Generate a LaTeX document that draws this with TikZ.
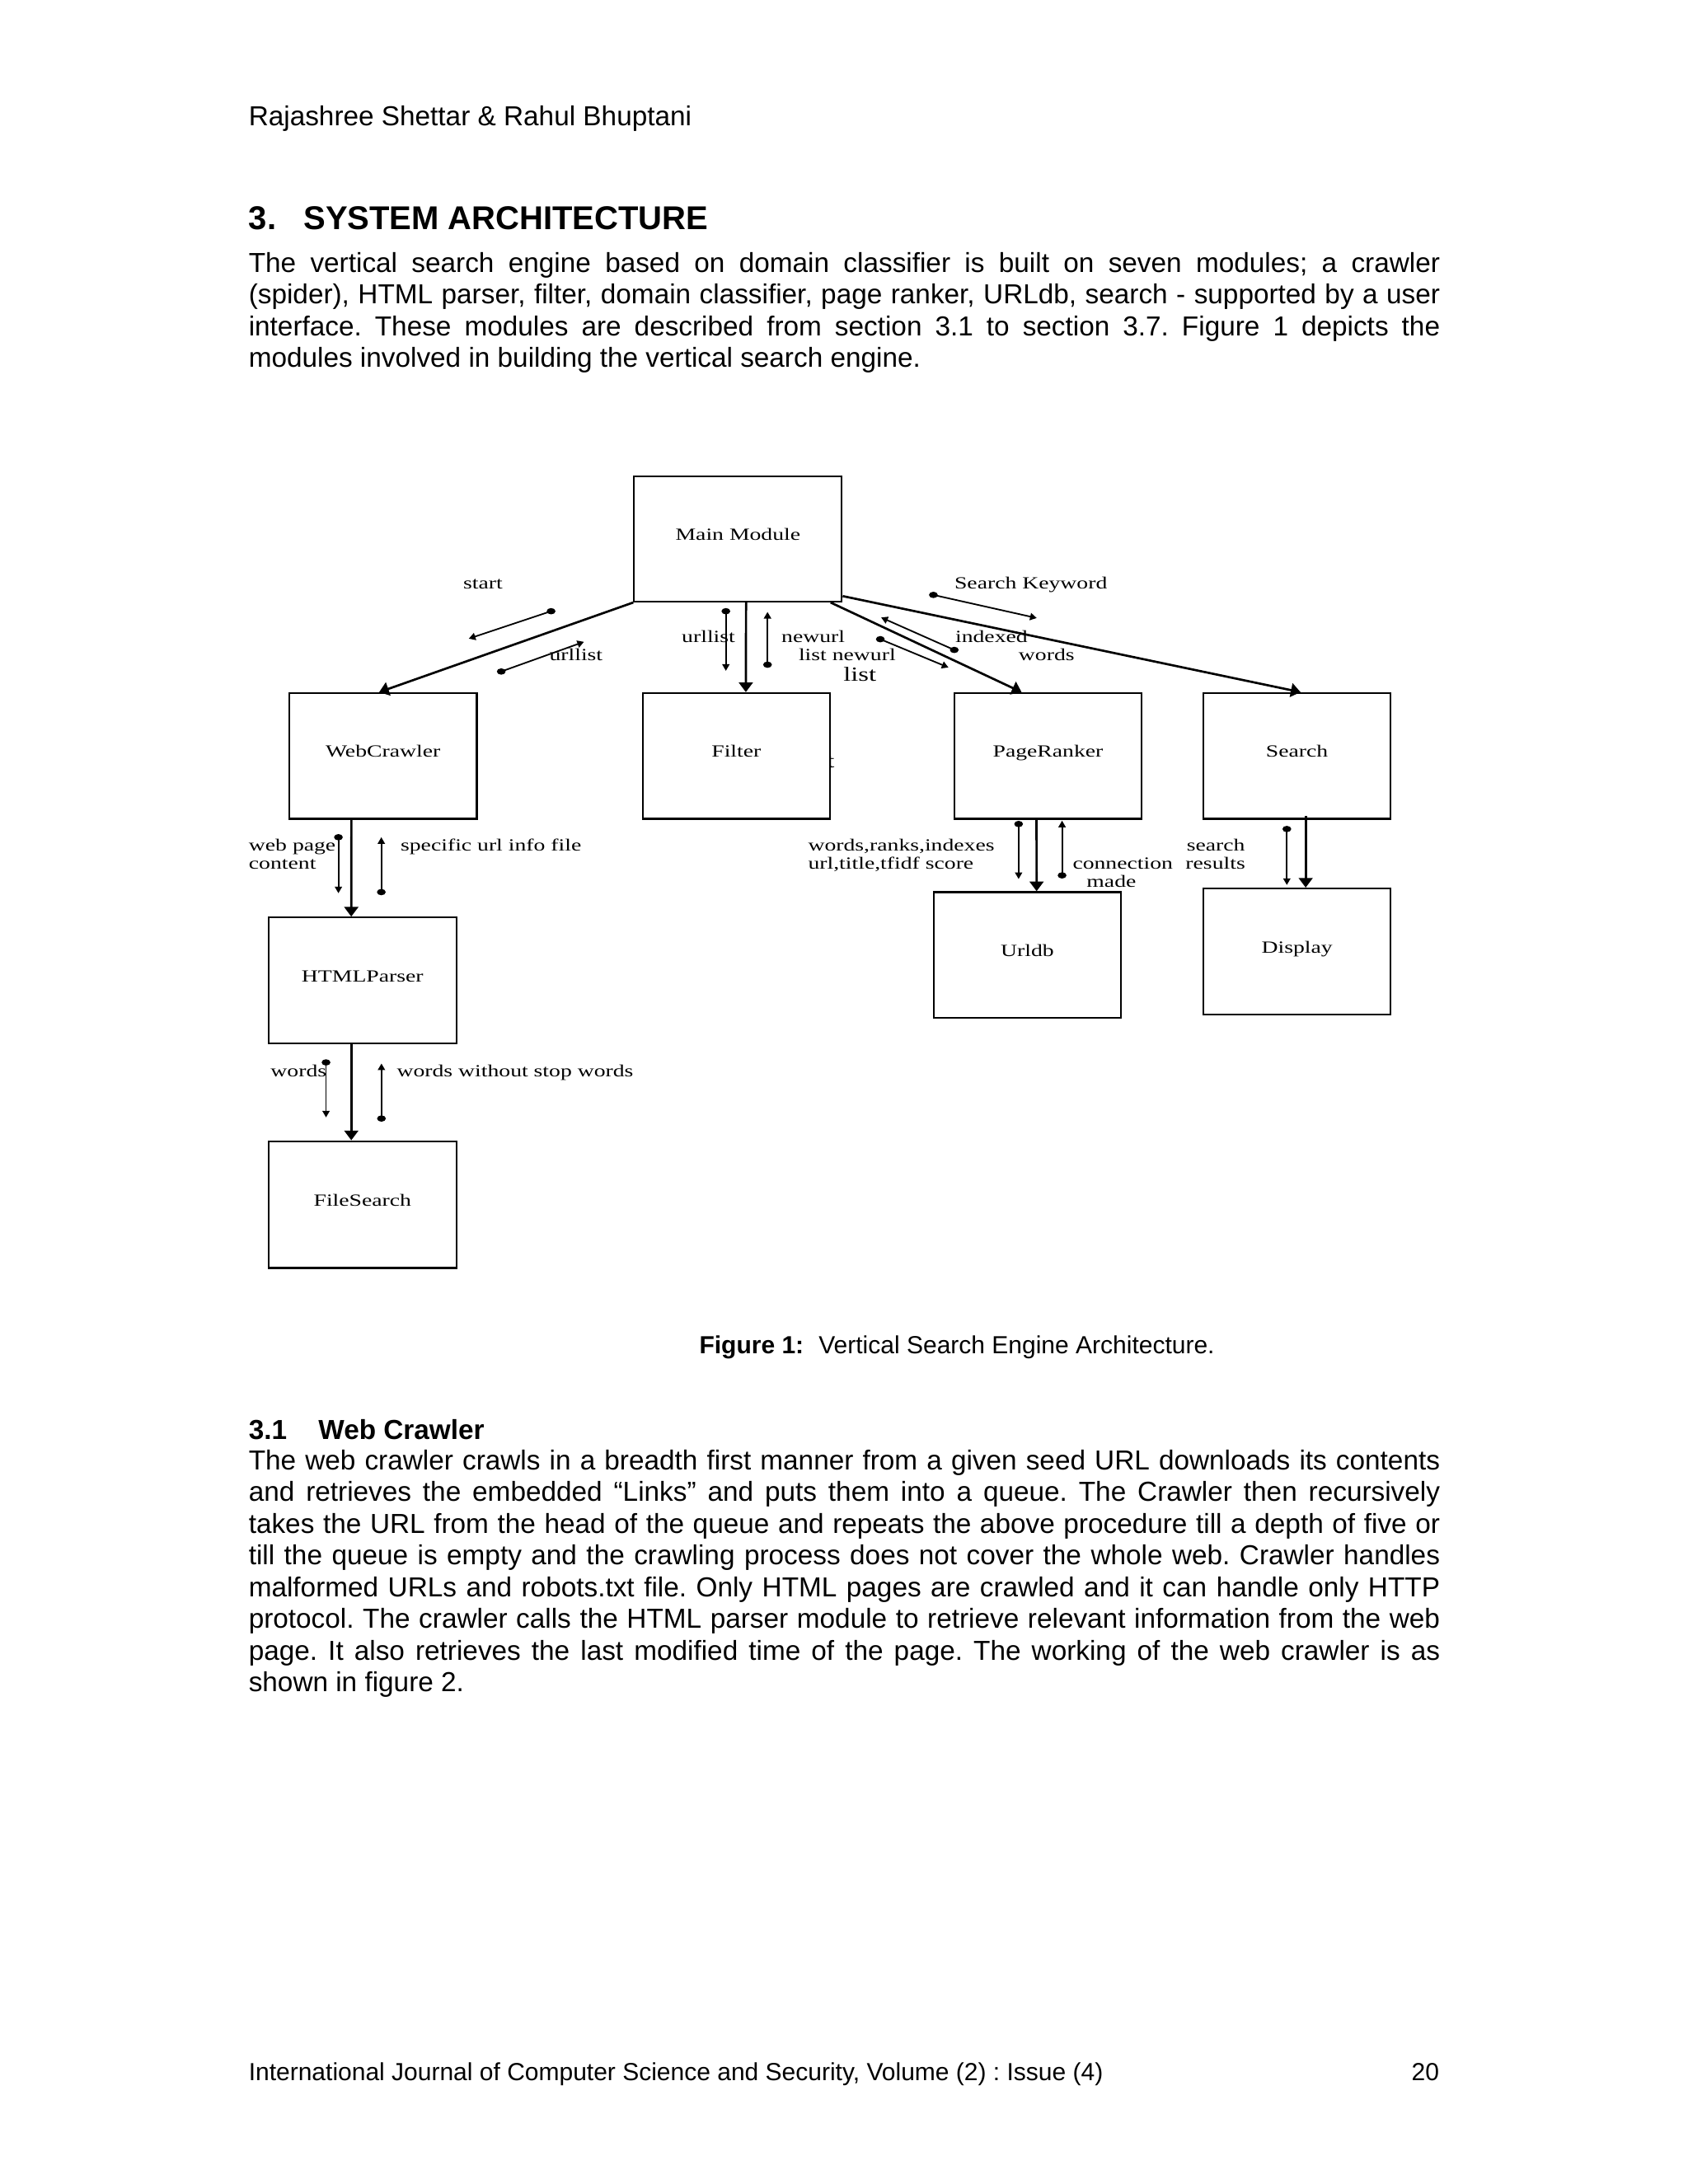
\documentclass[tikz,border=0pt]{standalone}
\usepackage{fontspec}
\usepackage{graphicx}
\setmainfont{Liberation Sans}
\newfontfamily\dfont{Liberation Serif}
\usetikzlibrary{arrows.meta,calc}
\newcommand{\dtxt}[1]{\scalebox{1.34}[1]{\dfont\fontsize{6.2}{7}\selectfont #1}}
\newcommand{\dbig}[1]{\scalebox{1.34}[1]{\dfont\fontsize{7.3}{8}\selectfont #1}}
\newcommand{\jline}[1]{\makebox[432bp][s]{#1}}
\frenchspacing
\begin{document}
\begin{tikzpicture}[x=0.505bp,y=-0.505bp,
  box/.style={draw,line width=0.65bp,fill=white,inner sep=0pt,minimum width=68bp,minimum height=45.6bp,text height=4.2bp,text depth=3.2bp},
  lbl/.style={inner sep=0pt,anchor=base},
  lblw/.style={inner sep=0pt,anchor=base west},
  body/.style={inner sep=0pt,anchor=base west,font=\fontsize{10}{12}\selectfont},
  mainarr/.style={line width=0.8bp,-{Triangle[length=3.5bp,width=5bp]}},
  smallarr/.style={line width=0.55bp,-{Triangle[length=2.4bp,width=2.6bp]}},
  dot/.style={fill=black}
]
\fill[white] (0,0) rectangle (1211.88,1568.32);
\useasboundingbox (0,0) rectangle (1211.88,1568.32);

% ---- page text ----
\node[body] (hdr) at (178.2,90) {Rajashree Shettar \& Rahul Bhuptani};
\node[body,font=\bfseries\fontsize{12}{14}\selectfont] (secnum) at (178.2,165) {3.};
\node[body,font=\bfseries\fontsize{12}{14}\selectfont] (sectitle) at (217.6,165) {SYSTEM ARCHITECTURE};
\node[body] (p1a) at (178.2,195.3) {\jline{The vertical search engine based on domain classifier is built on seven modules; a crawler}};
\node[body] (p1b) at (178.2,218.1) {\jline{(spider), HTML parser, filter, domain classifier, page ranker, URLdb, search - supported by a user}};
\node[body] (p1c) at (178.2,240.9) {\jline{interface. These modules are described from section 3.1 to section 3.7. Figure 1 depicts the}};
\node[body] (p1d) at (178.2,263.6) {modules involved in building the vertical search engine.};

\node[body,font=\bfseries\fontsize{9}{11}\selectfont] (capb) at (501.8,972) {Figure 1:};
\node[body,font=\fontsize{9}{11}\selectfont] (capt) at (587.5,972) {Vertical Search Engine Architecture.};

\node[body,font=\bfseries\fontsize{10}{12}\selectfont] (subnum) at (178.2,1033.6) {3.1};
\node[body,font=\bfseries\fontsize{10}{12}\selectfont] (subtitle) at (228.3,1033.6) {Web Crawler};
\node[body] (p2a) at (178.2,1055.4) {\jline{The web crawler crawls in a breadth first manner from a given seed URL downloads its contents}};
\node[body] (p2b) at (178.2,1078.2) {\jline{and retrieves the embedded “Links” and puts them into a queue. The Crawler then recursively}};
\node[body] (p2c) at (178.2,1100.9) {\jline{takes the URL from the head of the queue and repeats the above procedure till a depth of five or}};
\node[body] (p2d) at (178.2,1123.7) {\jline{till the queue is empty and the crawling process does not cover the whole web. Crawler handles}};
\node[body] (p2e) at (178.2,1146.5) {\jline{malformed URLs and robots.txt file. Only HTML pages are crawled and it can handle only HTTP}};
\node[body] (p2f) at (178.2,1169.3) {\jline{protocol. The crawler calls the HTML parser module to retrieve relevant information from the web}};
\node[body] (p2g) at (178.2,1192.0) {\jline{page. It also retrieves the last modified time of the page. The working of the web crawler is as}};
\node[body] (p2h) at (178.2,1214.8) {shown in figure 2.};

\node[body,font=\fontsize{9}{11}\selectfont] (foot) at (178.2,1494) {International Journal of Computer Science and Security, Volume (2) : Issue (4)};
\node[body,anchor=base east,font=\fontsize{9}{11}\selectfont] (pagenum) at (1033.7,1494) {20};

% ---- diagram ----
\node[lbl] (stray) at (596.5,551.3) {\dbig{t}};

\node[box,minimum width=75.3bp,minimum height=45.45bp] (mm) at (529.9,387) {\dtxt{Main Module}};
\node[box] (wc) at (275,542.8) {\dtxt{WebCrawler}};
\node[box] (filter) at (528.7,542.8) {\dtxt{Filter}};
\node[box] (pr) at (752.5,542.8) {\dtxt{PageRanker}};
\node[box] (search) at (931.3,542.8) {\dtxt{Search}};
\node[box] (hp) at (260.3,704) {\dtxt{HTMLParser}};
\node[box,minimum height=46bp] (fs) at (260.3,865) {\dtxt{FileSearch}};
\node[box,minimum width=67.8bp,minimum height=45.65bp] (urldb) at (737.7,685.8) {\dtxt{Urldb}};
\node[box,minimum height=45.65bp] (display) at (931.3,683.2) {\dtxt{Display}};

% main connectors
\draw[mainarr] (mm.south west) -- ($(wc.north west)+(65.2,0)$);
\draw[mainarr] ($(mm.south west)+(81,0)$) -- ($(filter.north west)+(74.8,0)$);
\draw[mainarr] ($(mm.south west)+(141.7,0)$) -- ($(pr.north west)+(49,0)$);
\draw[mainarr] ($(mm.south east)+(0,-4.6)$) -- ($(search.north west)+(70.5,0)$);
\draw[mainarr] ($(wc.south west)+(45.3,0)$) -- ($(hp.north west)+(59.9,0)$);
\draw[mainarr] ($(hp.south west)+(59.9,0)$) -- ($(fs.north west)+(59.9,0)$);
\draw[mainarr] ($(pr.south west)+(59.7,0)$) -- ($(urldb.north west)+(74.4,0)$);
\draw[mainarr] ($(search.south west)+(74.2,-2.8)$) -- ($(display.north west)+(74.2,0)$);

% annotation arrows (dot at tail)
\coordinate (a1) at (395.7,438.9); \coordinate (a2) at (336.6,458.6);
\coordinate (b1) at (359.9,482.2); \coordinate (b2) at (419.3,460.9);
\coordinate (c1) at (521.2,438.9); \coordinate (c2) at (521.2,481.7);
\coordinate (d1) at (551.1,477.3); \coordinate (d2) at (551.1,439.4);
\coordinate (e1) at (632.1,459.0); \coordinate (e2) at (681.0,479.3);
\coordinate (f1) at (685.2,466.7); \coordinate (f2) at (632.7,443.4);
\coordinate (g1) at (670.2,427.2); \coordinate (g2) at (744.4,443.8);
\coordinate (h1) at (243.0,601.2); \coordinate (h2) at (243.0,641.4);
\coordinate (hh1) at (273.8,640.6); \coordinate (hh2) at (273.8,601.2);
\coordinate (i1) at (234.1,762.9); \coordinate (i2) at (234.1,802.4);
\coordinate (ii1) at (273.9,803.2); \coordinate (ii2) at (273.9,763.7);
\coordinate (j1) at (731.4,591.7); \coordinate (j2) at (731.4,631.2);
\coordinate (jj1) at (762.6,628.6); \coordinate (jj2) at (762.6,589.3);
\coordinate (k1) at (924.0,595.3); \coordinate (k2) at (924.0,635.5);
\foreach \p in {a,b,c,d,e,f,g,h,hh,i,ii,j,jj,k}{
  \draw[smallarr] (\p1) -- (\p2);
  \fill[dot] (\p1) ellipse [x radius=1.6bp,y radius=1.15bp];
}

% labels
\node[lbl] (lstart) at (346.8,423.1) {\dtxt{start}};
\node[lbl] (lurl1) at (413.6,474.4) {\dtxt{urllist}};
\node[lbl] (lurl2) at (508.7,461.5) {\dtxt{urllist}};
\node[lbl] (lnew1) at (583.9,461.5) {\dtxt{newurl}};
\node[lbl] (lnew2) at (608.3,474.4) {\dtxt{list newurl}};
\node[lbl] (llist) at (617.4,489.2) {\dbig{list}};
\node[lbl] (lidx) at (711.9,461.5) {\dtxt{indexed}};
\node[lbl] (lwords1) at (751.5,474.4) {\dtxt{words}};
\node[lbl] (lsk) at (740.2,423.1) {\dtxt{Search Keyword}};
\node[lblw] (lwp) at (178.3,611.2) {\dtxt{web page}};
\node[lblw] (lcont) at (178.3,624.2) {\dtxt{content}};
\node[lblw] (lspec) at (287.3,611.2) {\dtxt{specific url info file}};
\node[lblw] (lwri) at (579.9,611.2) {\dtxt{words,ranks,indexes}};
\node[lblw] (lutt) at (579.9,624.2) {\dtxt{url,title,tfidf score}};
\node[lbl] (lconn) at (806.2,624.2) {\dtxt{connection}};
\node[lbl] (lmade) at (798,637) {\dtxt{made}};
\node[lbl] (lsr1) at (873,611.2) {\dtxt{search}};
\node[lbl] (lsr2) at (872.7,624.2) {\dtxt{results}};
\node[lblw] (lw2) at (194,773.2) {\dtxt{words}};
\node[lblw] (lwws) at (284.6,773.2) {\dtxt{words without stop words}};
\end{tikzpicture}
\end{document}
